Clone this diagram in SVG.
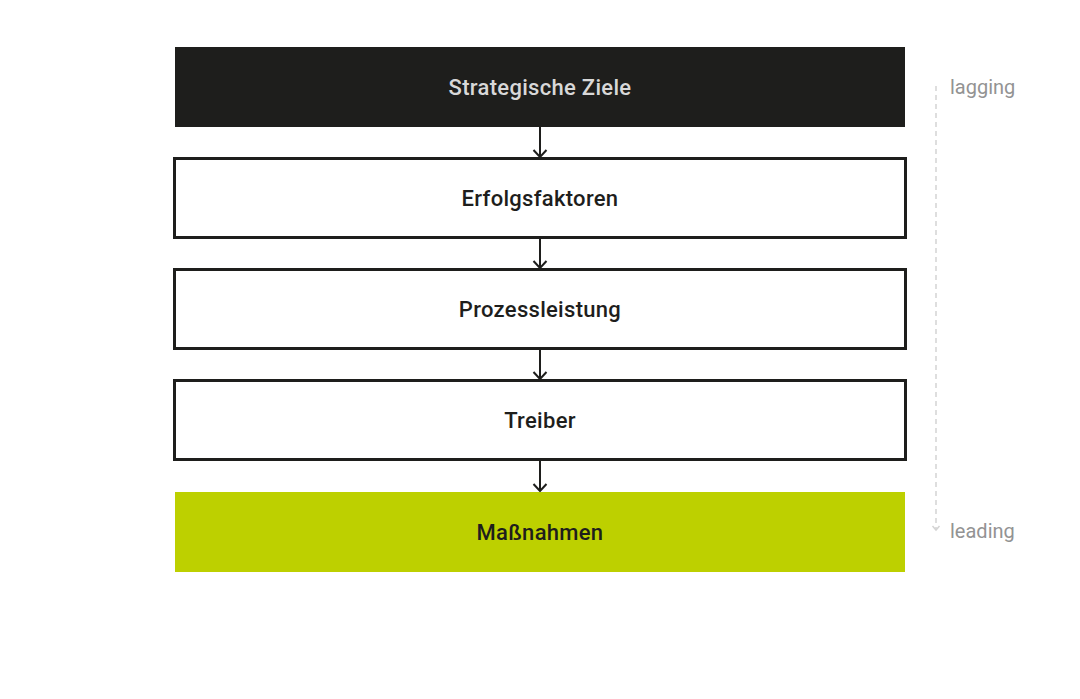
<svg xmlns="http://www.w3.org/2000/svg" width="1080" height="699" viewBox="0 0 1080 699">
<style>
.lbl{font-family:Roboto,"Liberation Sans",sans-serif;font-weight:500;font-size:22px;letter-spacing:0.3px;text-anchor:middle;dominant-baseline:central}
.box{fill:#ffffff;stroke:#1e1e1c;stroke-width:3}
.side{font-family:Roboto,"Liberation Sans",sans-serif;font-size:20px;fill:#939393;dominant-baseline:central}
.con{stroke:#1e1e1c;stroke-width:2;fill:none}
</style>
<rect width="1080" height="699" fill="#ffffff"/>
<g id="connectors">
<g class="con">
<line x1="540" y1="127" x2="540" y2="157"/><polyline points="533.5,150 540,157 546.5,150"/>
<line x1="540" y1="238" x2="540" y2="268"/><polyline points="533.5,261 540,268 546.5,261"/>
<line x1="540" y1="349" x2="540" y2="379"/><polyline points="533.5,372 540,379 546.5,372"/>
<line x1="540" y1="460" x2="540" y2="491"/><polyline points="533.5,484 540,491 546.5,484"/>
</g>
<line x1="936" y1="86" x2="936" y2="530" stroke="#d4d4d4" stroke-width="1.5" stroke-dasharray="5 4"/>
<polyline points="932.5,526 936,530 939.5,526" stroke="#d4d4d4" stroke-width="1.5" fill="none"/>
</g>
<g id="node-ziele">
<rect x="175" y="47" width="730" height="80" fill="#1e1e1c"/>
<text class="lbl" x="540" y="87" fill="#d8d8d8">Strategische Ziele</text>
</g>
<g id="node-erfolgsfaktoren">
<rect class="box" x="174.5" y="158.5" width="731" height="79"/>
<text class="lbl" x="540" y="198" fill="#1e1e1c">Erfolgsfaktoren</text>
</g>
<g id="node-prozessleistung">
<rect class="box" x="174.5" y="269.5" width="731" height="79"/>
<text class="lbl" x="540" y="309" fill="#1e1e1c">Prozessleistung</text>
</g>
<g id="node-treiber">
<rect class="box" x="174.5" y="380.5" width="731" height="79"/>
<text class="lbl" x="540" y="420" fill="#1e1e1c">Treiber</text>
</g>
<g id="node-massnahmen">
<rect x="175" y="492" width="730" height="80" fill="#bdd000"/>
<text class="lbl" x="540" y="532" fill="#1e1e1c">Maßnahmen</text>
</g>
<g id="side-labels">
<text class="side" x="950" y="87">lagging</text>
<text class="side" x="950" y="531">leading</text>
</g>
</svg>
